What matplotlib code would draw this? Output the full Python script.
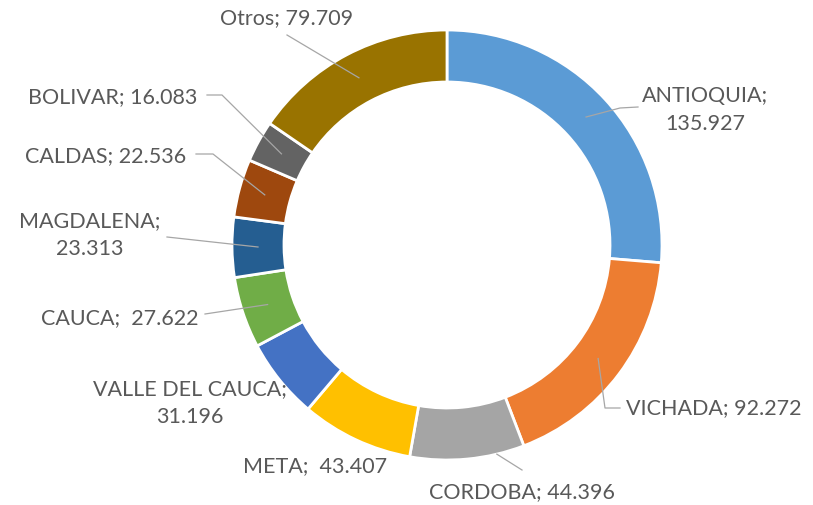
import numpy as np
import matplotlib
matplotlib.use("Agg")
import matplotlib.pyplot as plt

# Datos (departamentos y valores)
departamentos = ['ANTIOQUIA', 'VICHADA', 'CORDOBA', 'META', 'VALLE DEL CAUCA',
                 'CAUCA', 'MAGDALENA', 'CALDAS', 'BOLIVAR', 'Otros']
valores = [135.927, 92.272, 44.396, 43.407, 31.196,
           27.622, 23.313, 22.536, 16.083, 79.709]
etiquetas = ['ANTIOQUIA;\n135.927', 'VICHADA; 92.272', 'CORDOBA; 44.396',
             'META;  43.407', 'VALLE DEL CAUCA;\n31.196', 'CAUCA;  27.622',
             'MAGDALENA;\n23.313', 'CALDAS; 22.536', 'BOLIVAR; 16.083',
             'Otros; 79.709']
colores = ['#5B9BD5', '#ED7D31', '#A5A5A5', '#FFC000', '#4472C4',
           '#70AD47', '#255E91', '#9E480E', '#636363', '#997300']

W, H = 813, 505
cx, cy = 447, 245          # centro del anillo (pixeles)
r_ext, ancho = 215, 52

# posicion del texto (pixeles) y quiebres de la linea guia
texto_pos = [(705, 110), (714, 408), (522, 492), (315, 466), (190, 403),
             (120, 318), (90, 235), (106, 156), (113, 97), (287, 18)]
guias = [[(638, 107), (620, 108)],
         [(620, 408), (605, 408)],
         [(522, 470)],
         None,
         None,
         [(205, 314)],
         [(167, 237)],
         [(196, 154), (213, 154)],
         [(207, 95), (222, 95)],
         [(287, 35)]]


def p(x, y):
    return x, H - y


fig = plt.figure(figsize=(W / 100, H / 100), dpi=100)
ax = fig.add_axes([0, 0, 1, 1])
wedges, _ = ax.pie(valores, colors=colores, startangle=90, counterclock=False,
                   radius=r_ext, center=p(cx, cy),
                   wedgeprops=dict(width=ancho, edgecolor='white', linewidth=2))
ax.set_xlim(0, W)
ax.set_ylim(0, H)
ax.set_aspect('equal')
ax.axis('off')

for w, lab, pos, g in zip(wedges, etiquetas, texto_pos, guias):
    ax.text(*p(*pos), lab, ha='center', va='center', fontsize=15.5,
            family='Lato', color='#595959', linespacing=1.5)
    if g is None:
        continue
    ang = np.deg2rad((w.theta1 + w.theta2) / 2)
    rm = r_ext - ancho / 2
    if lab.startswith('CORDOBA'):
        fin = (cx + r_ext * np.cos(np.deg2rad(-76.6)), cy - r_ext * np.sin(np.deg2rad(-76.6)))
    else:
        fin = (cx + rm * np.cos(ang), cy - rm * np.sin(ang))
    pts = [p(*q) for q in g] + [p(*fin)]
    xs, ys = zip(*pts)
    ax.plot(xs, ys, color='#A6A6A6', lw=0.9)

fig.savefig('out.png', dpi=100, facecolor='white')
